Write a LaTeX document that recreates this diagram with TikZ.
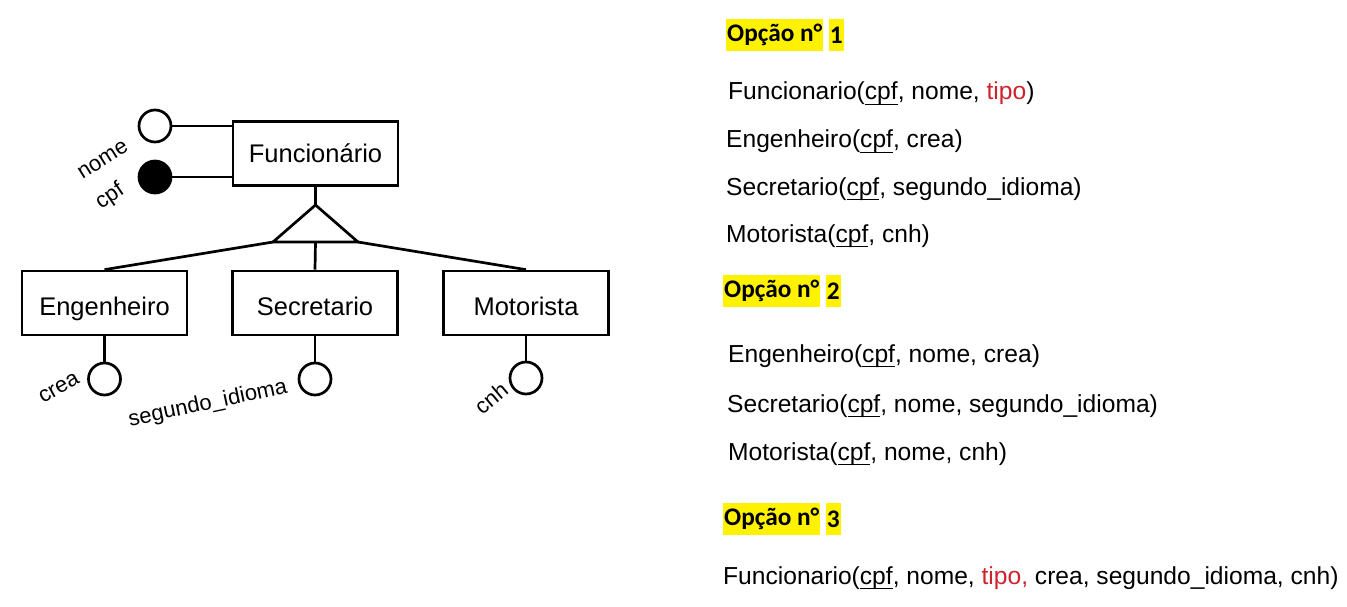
\documentclass[tikz,border=0pt]{standalone}
\usepackage{fontspec}
\setmainfont{Liberation Sans}
\newfontfamily\optfont{Carlito}
\usepackage{xcolor}
\usetikzlibrary{positioning,calc}
\definecolor{tipored}{RGB}{205,35,45}
\tikzstyle{entity} = [draw, rectangle, line width=2.7pt, minimum width=165pt,
    minimum height=64pt, inner sep=0pt, font=\fontsize{25.5}{30}\selectfont]
\tikzstyle{subentity} = [entity, text height=24pt, text depth=0pt]
\tikzstyle{attr} = [draw, circle, line width=2.7pt, minimum size=32pt, inner sep=0pt, fill=white]
\tikzstyle{keyattr} = [attr, fill=black]
\tikzstyle{alabel} = [inner sep=0pt, font=\fontsize{22}{26}\selectfont]
\tikzstyle{link} = [line width=2.7pt]
\tikzstyle{opt} = [fill=yellow, minimum height=32pt, inner xsep=1pt, inner ysep=0pt,
    font=\optfont\bfseries\fontsize{25.3}{30}\selectfont]
\tikzstyle{rel} = [anchor=base west, inner sep=0pt, font=\fontsize{24.6}{30}\selectfont]
\newcommand{\pk}[1]{\setbox0\hbox{#1}\rlap{\rule[-5pt]{\wd0}{1.3pt}}\box0}
\newcommand{\tp}[1]{\textcolor{tipored}{#1}}

\begin{document}
\begin{tikzpicture}[x=1pt, y=-1pt]
    \useasboundingbox [fill=white] (0,0) rectangle (1347,607);

    % generalizacao
    \node (func) [entity] at (315.5,153.5) {Funcionário};
    \node (eng) [subentity] at (104.5,303) {Engenheiro};
    \node (sec) [subentity] at (315,303) {Secretario};
    \node (mot) [subentity] at (526,303) {Motorista};

    \node (nome) [attr] at (155,126) {};
    \node (cpf) [keyattr] at (155,177) {};
    \node (crea) [attr] at (104.5,379) {};
    \node (idioma) [attr] at (315,379) {};
    \node (cnh) [attr] at (526,378) {};

    \node (nomel) [alabel, rotate=32] at (103,160) {nome};
    \node (cpfl) [alabel, rotate=34] at (110,197) {cpf};
    \node (creal) [alabel, rotate=29] at (59,388) {crea};
    \node (idiomal) [alabel, rotate=12] at (208,404) {segundo\_idioma};
    \node (cnhl) [alabel, rotate=40] at (491,398) {cnh};

    \coordinate (apex) at (315.5,205);
    \coordinate (bl) at (273,242);
    \coordinate (br) at (358,242);
    \coordinate (bm) at (315.5,242);

    \draw [link] (nome) -- (nome -| func.west);
    \draw [link] (cpf) -- (cpf -| func.west);
    \draw [link] (func.south) -- (apex);
    \draw [link, line join=miter] (apex) -- (bl) -- (br) -- cycle;
    \draw [link] (bl) -- (eng.north);
    \draw [link] (bm) -- (sec.north);
    \draw [link] (br) -- (mot.north);
    \draw [link] (eng.south) -- (crea);
    \draw [link] (sec.south) -- (idioma);
    \draw [link] (mot.south) -- (cnh);

    % opcoes
    \node (op1) [opt, anchor=west] at (726,35) {Opção n°};
    \node (op1n) [opt, right=5pt of op1] {1};
    \node (r1a) [rel] at (728,100) {Funcionario(\pk{cpf}, nome, \tp{tipo})};
    \node (r1b) [rel] at (726,148) {Engenheiro(\pk{cpf}, crea)};
    \node (r1c) [rel] at (726,195) {Secretario(\pk{cpf}, segundo\_idioma)};
    \node (r1d) [rel] at (726,242) {Motorista(\pk{cpf}, cnh)};

    \node (op2) [opt, anchor=west] at (723,291) {Opção n°};
    \node (op2n) [opt, right=5pt of op2] {2};
    \node (r2a) [rel] at (728,362) {Engenheiro(\pk{cpf}, nome, crea)};
    \node (r2b) [rel] at (727,412) {Secretario(\pk{cpf}, nome, segundo\_idioma)};
    \node (r2c) [rel] at (728,460) {Motorista(\pk{cpf}, nome, cnh)};

    \node (op3) [opt, anchor=west] at (723,519) {Opção n°};
    \node (op3n) [opt, right=5pt of op3] {3};
    \node (r3a) [rel] at (723,584) {Funcionario(\pk{cpf}, nome, \tp{tipo,} crea, segundo\_idioma, cnh)};
\end{tikzpicture}
\end{document}
